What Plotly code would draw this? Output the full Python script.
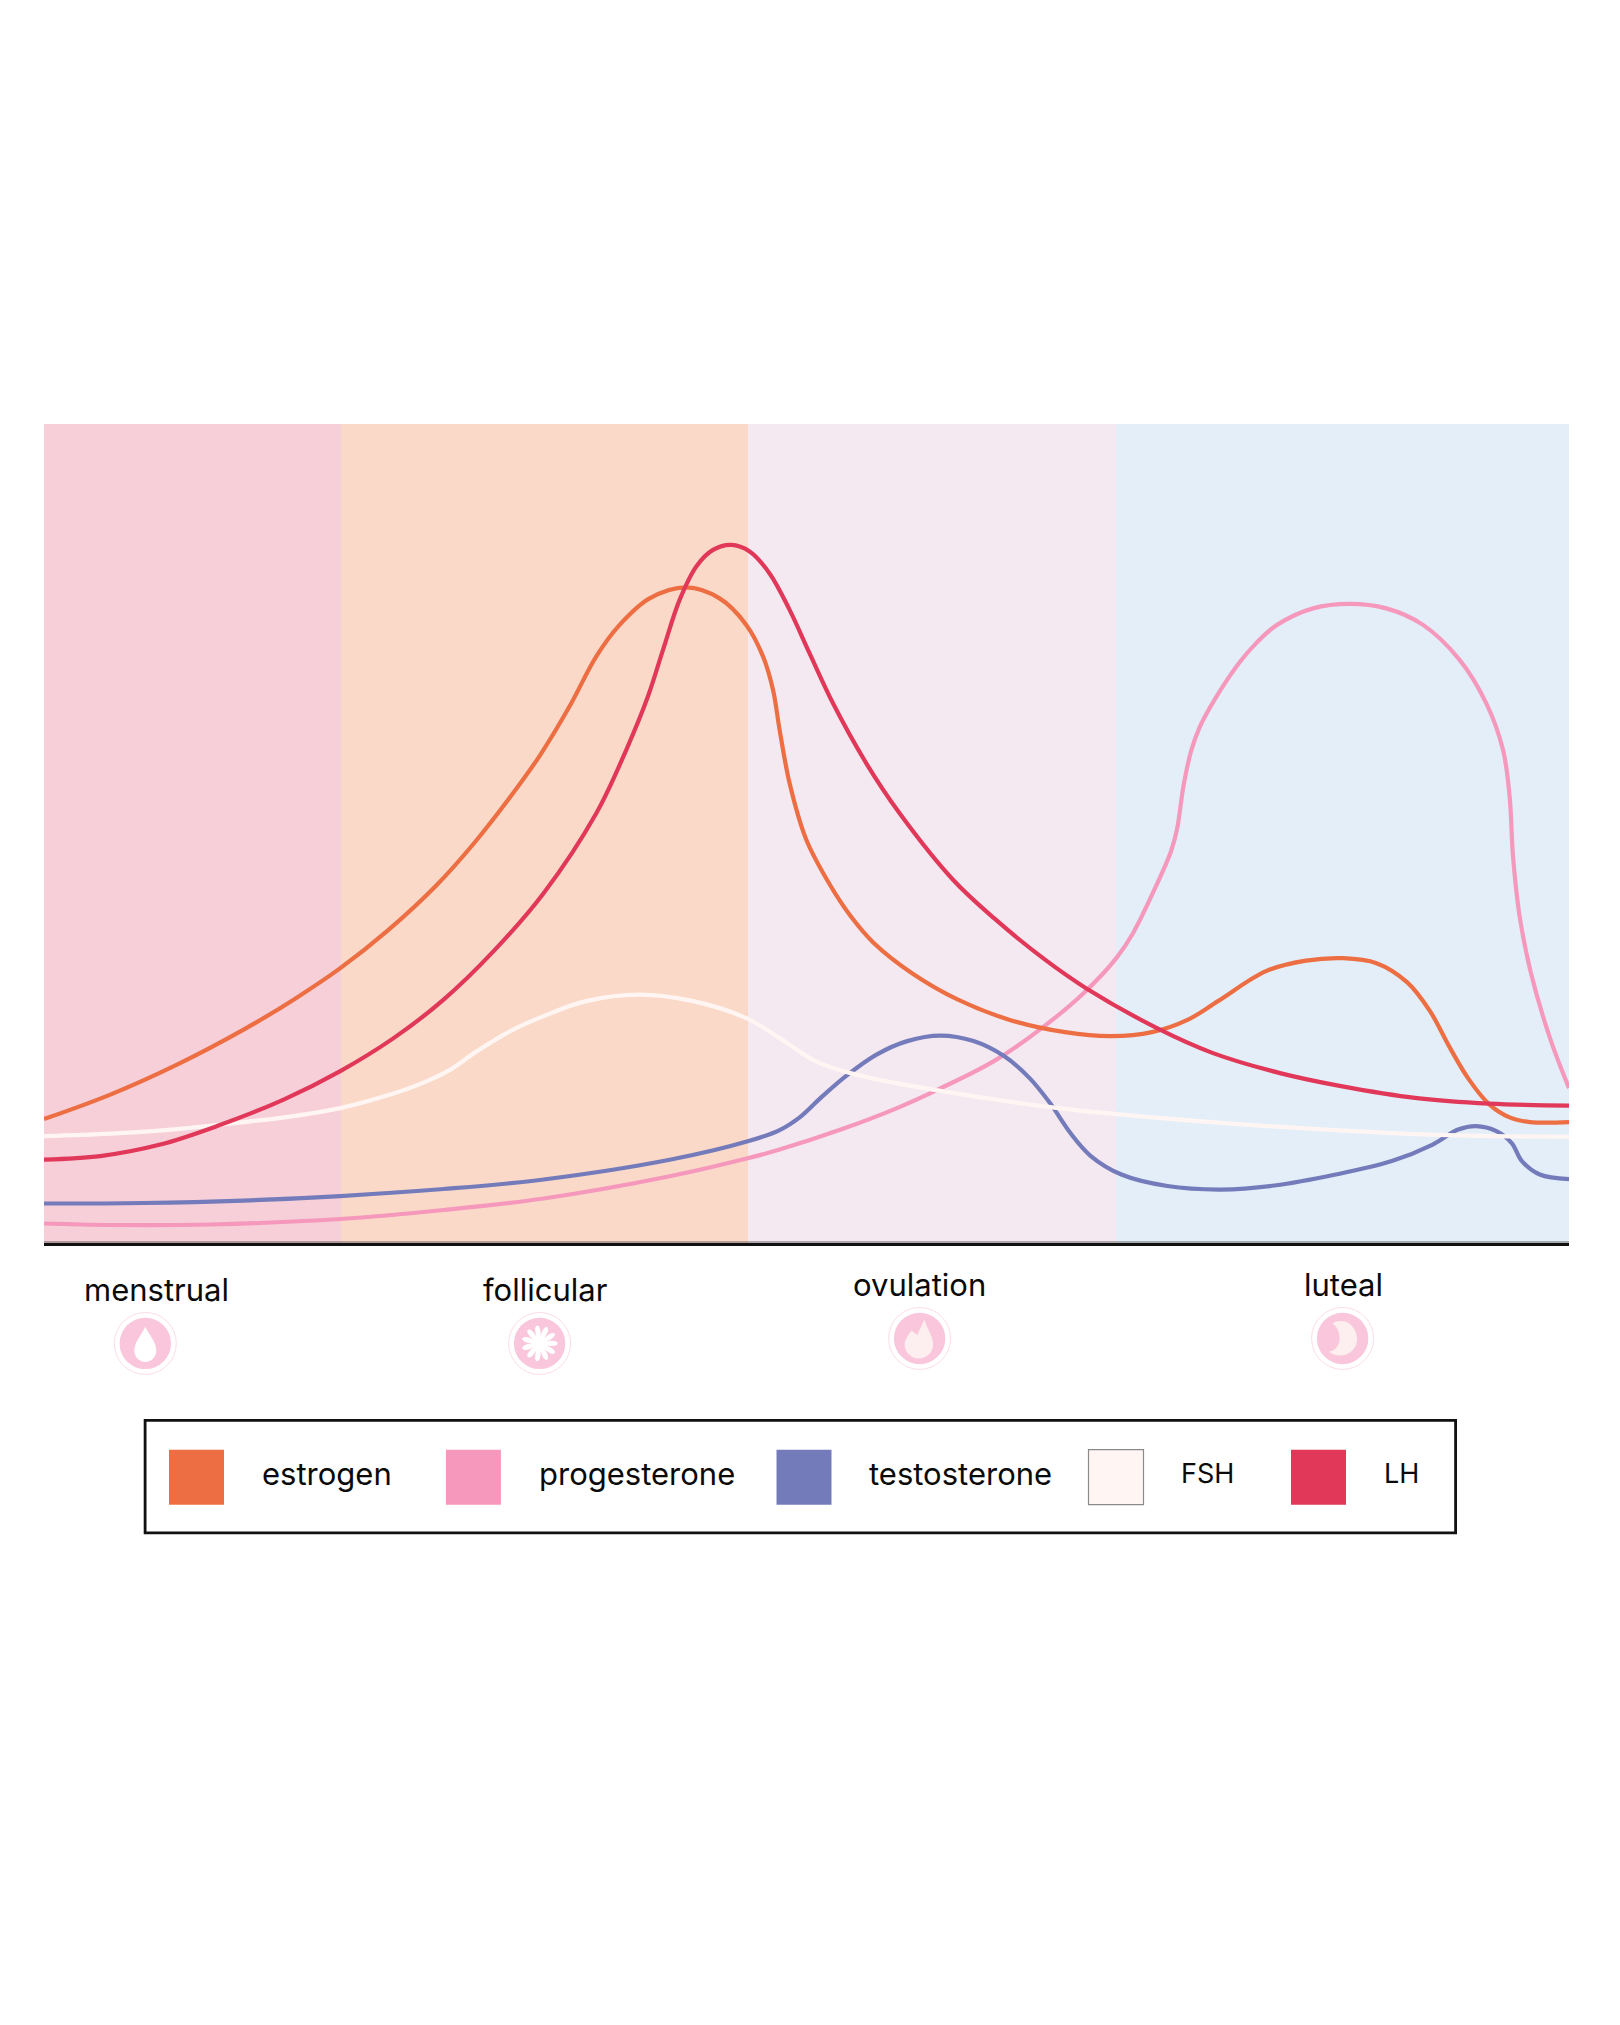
import math
import plotly.graph_objects as go

# values, x = position in the cycle, y = hormone level (arbitrary units)
estrogen_x = [0, 66.3, 133, 199.6, 249.6, 296.3, 343, 393, 430, 466, 496, 525.6, 552.3, 575.6, 605.6, 642.3, 675.6, 702.3, 719, 729, 735.6, 745.6, 762.3, 785, 806, 830, 868, 914, 965, 1021, 1067, 1108, 1144, 1174, 1222, 1262, 1299, 1332.5, 1363, 1386, 1405, 1424, 1445, 1465, 1486, 1525]
estrogen_y = [124, 148.5, 178.5, 213.5, 243.5, 275, 312, 358.5, 400, 446, 488, 537, 587, 618.5, 645, 656, 645, 618.5, 587, 553.5, 513.5, 460, 403.5, 360, 328, 300, 270, 243.5, 223.5, 211, 207, 211, 223.5, 242, 272, 282.5, 285, 280, 261, 232, 197, 165, 139, 126, 121, 121]

progesterone_x = [0, 66.3, 166.3, 296.3, 399.6, 499.6, 627, 704.6, 735.6, 796.8, 853, 893.8, 949.9, 995.8, 1041.7, 1072.3, 1089, 1112, 1127, 1133, 1139.6, 1147.3, 1155.6, 1169, 1195.6, 1212, 1232.3, 1269, 1305.6, 1342.3, 1379, 1415.6, 1442.3, 1459, 1465.6, 1469, 1475.6, 1486.5, 1506, 1525]
progesterone_y = [19.5, 18, 18.5, 24, 33, 44.5, 67, 85, 93.5, 113.5, 135, 153.5, 182, 213.5, 252, 285, 310, 357, 392, 414, 458, 493, 516, 541, 581, 600, 618, 635, 639.5, 635, 618.5, 583.5, 540, 493.5, 447, 387, 327, 272, 205, 155]

testosterone_x = [0, 99.6, 199.6, 296.3, 399.6, 499.6, 627, 704.6, 735.6, 756, 776.4, 801.9, 832.5, 863.2, 896.3, 929.5, 960, 985.6, 1006, 1026.4, 1046.8, 1077.4, 1123.4, 1176.9, 1230.5, 1291.7, 1347.8, 1388.7, 1414.2, 1432, 1452.4, 1467.7, 1477.9, 1495.8, 1525]
testosterone_y = [39.5, 40, 42.5, 47, 54, 63.5, 83.5, 102, 113, 126, 145, 167, 188.5, 202, 207.5, 202, 187, 165, 140, 110, 87, 68.5, 57, 53.5, 57.5, 68.5, 82, 98.5, 113.5, 117, 112, 100, 82, 68.5, 64]

fsh_x = [0, 66.3, 133, 199.6, 249.6, 296.3, 346.3, 383, 406.3, 433, 466.3, 499.6, 542, 595.6, 649, 702.3, 735.6, 771.3, 812, 888.7, 1006, 1072.3, 1194.8, 1347.8, 1449.9, 1525]
fsh_y = [107, 109.5, 114, 121, 127, 135, 148.5, 162, 173.5, 192, 212, 227, 242, 248.5, 242, 225, 205, 182, 168.5, 153.5, 136, 129, 119, 110, 107, 106.5]

lh_x = [0, 56.3, 116.3, 173, 239.6, 296.3, 349.6, 399.6, 449.6, 499.6, 552.3, 582.3, 604, 619, 635.6, 652.3, 669, 687.3, 705.6, 725.6, 745.6, 765.6, 789, 822.3, 855.6, 909, 950, 1001, 1042, 1113, 1169, 1236, 1297, 1373, 1445, 1525]
lh_y = [83.5, 87, 98.5, 117, 143.5, 172, 205, 243.5, 292, 350, 430, 493.5, 547, 593.5, 643.5, 677, 693.5, 698.5, 692, 670, 633.5, 590, 540, 480, 430, 363.5, 325, 283.5, 255, 215, 190, 170, 157, 145, 139.5, 137.5]

phase_names = ["menstrual", "follicular", "ovulation", "luteal"]
phase_edges = [0, 297, 704, 1072, 1525]
phase_colors = ["#F6CFD8", "#FAD9C9", "#F4E8F1", "#E3EEF8"]

legend_names = ["estrogen", "progesterone", "testosterone", "FSH", "LH"]
legend_colors = ["#EC6E42", "#F598BC", "#747BBB", "#FFF6F3", "#E13859"]

W = 1620
H = 2025
LEFT = 44.4
RIGHT = 1569.4
TOP = 424
BOTTOM = 1243.5
PAGE_OFFSET = 8  # the page body pushes the figure down and right

# paper coordinates run over the plot area, so anything outside goes past 0..1
def fx(px):
    return (px - LEFT) / (RIGHT - LEFT)

def fy(py):
    return (BOTTOM - py) / (BOTTOM - TOP)

fig = go.Figure()

# draw order matters at the crossings
series = [
    ("progesterone", progesterone_x, progesterone_y, "#F598BC"),
    ("testosterone", testosterone_x, testosterone_y, "#747BBB"),
    ("estrogen", estrogen_x, estrogen_y, "#EC6E42"),
    ("FSH", fsh_x, fsh_y, "#FFF6F3"),
    ("LH", lh_x, lh_y, "#E13859"),
]
for name, xs, ys, color in series:
    fig.add_trace(go.Scatter(x=xs, y=ys, mode="lines", name=name, showlegend=False,
                             line=dict(color=color, width=4.2, shape="spline", smoothing=1.0)))

for i in range(len(phase_names)):
    fig.add_vrect(x0=phase_edges[i], x1=phase_edges[i + 1], fillcolor=phase_colors[i],
                  line_width=0, layer="below")

def label(text, px, py, anchor="center", size=31):
    fig.add_annotation(text=text, x=fx(px), y=fy(py), xref="paper", yref="paper",
                       xanchor=anchor, yanchor="middle", showarrow=False,
                       font=dict(family="Inter, Lato, sans-serif", size=size, color="#0A0A0A"))

def paper_rect(x0, y0, x1, y1, fill, line_color=None, line_width=0):
    fig.add_shape(type="rect", xref="paper", yref="paper", x0=fx(x0), x1=fx(x1), y0=fy(y0), y1=fy(y1),
                  fillcolor=fill, line=dict(color=line_color, width=line_width))

def circle(cx, cy, r, fill, line_color=None, line_width=0):
    fig.add_shape(type="circle", xref="paper", yref="paper", x0=fx(cx - r), x1=fx(cx + r),
                  y0=fy(cy + r), y1=fy(cy - r), fillcolor=fill,
                  line=dict(color=line_color, width=line_width))

def glyph(cx, cy, path, fill):
    # path is in pixels around the icon centre, y pointing up
    fig.add_shape(type="path", path=path, xref="paper", yref="paper", xsizemode="pixel", ysizemode="pixel",
                  xanchor=fx(cx), yanchor=fy(cy), fillcolor=fill, line_width=0)

def flower_path():
    n = 11
    h = math.pi / n
    parts = []
    for i in range(n):
        a = 2 * math.pi * i / n
        p0 = (8 * math.cos(a - h * 0.95), 8 * math.sin(a - h * 0.95))
        c1 = (22 * math.cos(a - h * 0.8), 22 * math.sin(a - h * 0.8))
        c2 = (22 * math.cos(a + h * 0.8), 22 * math.sin(a + h * 0.8))
        p1 = (8 * math.cos(a + h * 0.95), 8 * math.sin(a + h * 0.95))
        parts.append(("M" if i == 0 else "L") + f" {p0[0]:.2f} {p0[1]:.2f}")
        parts.append(f"C {c1[0]:.2f} {c1[1]:.2f} {c2[0]:.2f} {c2[1]:.2f} {p1[0]:.2f} {p1[1]:.2f}")
    return " ".join(parts) + " Z"

DROP = "M 0 17 C 2 11 11 2 11 -7 C 11 -13.5 6 -18.5 0 -18.5 C -6 -18.5 -11 -13.5 -11 -7 C -11 2 -2 11 0 17 Z"
FLAME = "M 5 19 C 2 13 0 9 -2 4 C -3 3 -5 6 -8 8 C -12 3 -15 -2 -15 -6 C -15 -14 -8 -20 -1 -20 C 7 -20 13.5 -14 13.5 -6 C 13.5 3 7 10 5 19 Z"
MOON = "M -10 15 C -4 18.5 3 18 8 14 C 12 10 14.5 5 14.5 -1 C 14.5 -9 8 -17 -3 -17 C -7 -17 -11 -15.5 -14 -13 C -8 -13 -3 -7 -3 0 C -3 7 -6 12 -10 15 Z"

icons = [
    (145.7, 1344, DROP, "#FFFFFF"),
    (540, 1344, flower_path(), "#FFFFFF"),
    (920, 1339, FLAME, "#FDEEF0"),
    (1343, 1339, MOON, "#FDEEF0"),
]
for cx, cy, path, fill in icons:
    circle(cx, cy, 31, "rgba(0,0,0,0)", "#FBDDE8", 1)
    circle(cx, cy, 25.7, "#F9C6DB")
    glyph(cx, cy, path, fill)

label("menstrual", 157, 1290)
label("follicular", 545, 1290)
label("ovulation", 920, 1285)
label("luteal", 1344, 1285)

# soft grey edge just above the black baseline
paper_rect(LEFT, 1241.5, RIGHT, 1243.5, "rgba(70,70,70,0.4)")

# legend box
paper_rect(145.5, 1421, 1456, 1533.5, "rgba(0,0,0,0)", "#111111", 2.8)
swatch_left = [169.4, 446.3, 776.9, 1088.9, 1291.4]
text_left = [260, 537, 867.5, 1179, 1382]
text_size = [31, 31, 31, 27, 27]
for i in range(len(legend_names)):
    outline = "#8A8A8A" if legend_names[i] == "FSH" else None
    paper_rect(swatch_left[i], 1450.3, swatch_left[i] + 55, 1505.3, legend_colors[i], outline,
               1.2 if outline else 0)
    label(legend_names[i], text_left[i], 1474, anchor="left", size=text_size[i])

fig.update_layout(
    width=W, height=H,
    margin=dict(l=LEFT - PAGE_OFFSET, r=W - RIGHT + PAGE_OFFSET, t=TOP - PAGE_OFFSET,
                b=H - BOTTOM + PAGE_OFFSET, pad=0),
    paper_bgcolor="#FFFFFF", plot_bgcolor="#FFFFFF",
    hovermode=False,
)
fig.update_xaxes(range=[0, 1525], showgrid=False, zeroline=False, showticklabels=False, ticks="",
                 showline=True, linecolor="#111111", linewidth=3)
fig.update_yaxes(range=[0, 819.5], showgrid=False, zeroline=False, showticklabels=False, ticks="",
                 showline=False)

fig.write_html("out.html")
